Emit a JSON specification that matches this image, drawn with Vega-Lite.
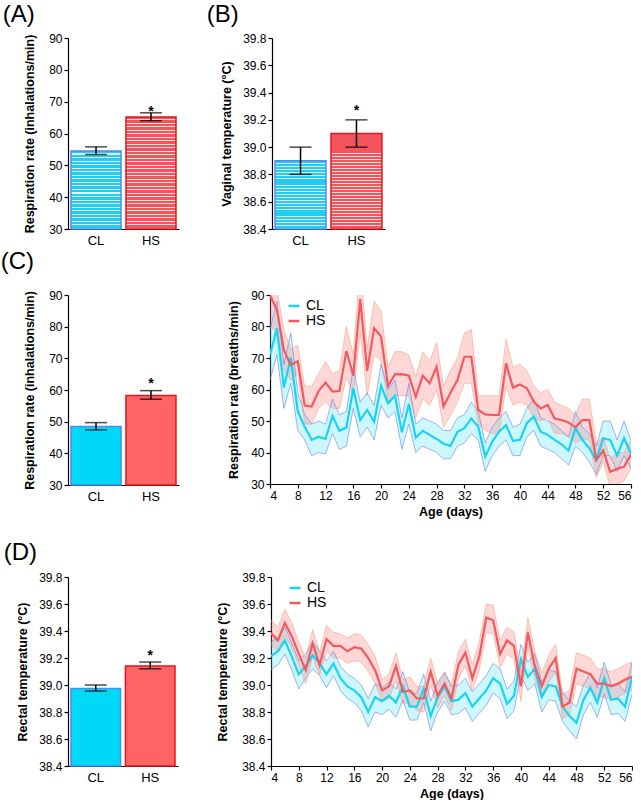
{
"$schema": "https://vega.github.io/schema/vega-lite/v6.json",
"background": "white",
"padding": {"left": 0, "top": 3, "right": 0, "bottom": 0},
"config": {
 "view": {"stroke": null},
 "font": "Liberation Sans",
 "axis": {"grid": false, "domainColor": "black", "tickColor": "black", "labelColor": "black", "titleColor": "black", "labelFont": "Liberation Sans", "titleFont": "Liberation Sans", "labelFontSize": 12, "titleFontSize": 12.5, "titleFontWeight": "bold", "tickSize": 4, "domainWidth": 1.2, "tickWidth": 1.2, "labelPadding": 2, "titlePadding": 10, "labelOverlap": false},
 "title": {"font": "Liberation Sans", "fontSize": 24, "fontWeight": "normal", "anchor": "start", "color": "black", "offset": 5},
 "legend": {"labelFont": "Liberation Sans", "labelFontSize": 14, "labelColor": "black", "symbolType": "stroke", "symbolStrokeWidth": 2.5, "symbolSize": 120, "orient": "top-left", "offset": 2, "padding": 2, "rowPadding": 1, "labelOffset": 5, "symbolOffset": 13}
},
"datasets": {
 "barA": [{"group": "CL", "mean": 54.5, "lo": 53.4, "hi": 55.8, "sig": ""}, {"group": "HS", "mean": 65.2, "lo": 64.0, "hi": 66.5, "sig": "*"}],
 "barB": [{"group": "CL", "mean": 38.9, "lo": 38.8, "hi": 39.0, "sig": ""}, {"group": "HS", "mean": 39.1, "lo": 39.0, "hi": 39.2, "sig": "*"}],
 "barC": [{"group": "CL", "mean": 48.5, "lo": 47.4, "hi": 49.7, "sig": ""}, {"group": "HS", "mean": 58.3, "lo": 57.1, "hi": 59.8, "sig": "*"}],
 "barD": [{"group": "CL", "mean": 38.975, "lo": 38.955, "hi": 39.0, "sig": ""}, {"group": "HS", "mean": 39.14, "lo": 39.12, "hi": 39.17, "sig": "*"}],
 "resp": [
  {"day":4,"group":"CL","mean":71,"lo":63,"hi":79},{"day":5,"group":"CL","mean":79.4,"lo":71,"hi":88},{"day":6,"group":"CL","mean":60.6,"lo":54,"hi":68},{"day":7,"group":"CL","mean":70.1,"lo":62,"hi":78},{"day":8,"group":"CL","mean":53,"lo":47,"hi":59},{"day":9,"group":"CL","mean":48.2,"lo":44,"hi":52},{"day":10,"group":"CL","mean":44,"lo":39,"hi":49},{"day":11,"group":"CL","mean":45,"lo":40,"hi":50},{"day":12,"group":"CL","mean":44.3,"lo":39.5,"hi":49},{"day":13,"group":"CL","mean":51.6,"lo":46,"hi":57},{"day":14,"group":"CL","mean":46.9,"lo":41,"hi":52},{"day":15,"group":"CL","mean":47.9,"lo":42,"hi":53},{"day":16,"group":"CL","mean":60.4,"lo":54,"hi":67},{"day":17,"group":"CL","mean":50.3,"lo":45,"hi":56},{"day":18,"group":"CL","mean":53.5,"lo":48,"hi":59},{"day":19,"group":"CL","mean":49.8,"lo":44,"hi":55},{"day":20,"group":"CL","mean":61.2,"lo":55,"hi":68},{"day":21,"group":"CL","mean":55.6,"lo":51,"hi":60},{"day":22,"group":"CL","mean":58,"lo":53,"hi":63},{"day":23,"group":"CL","mean":46.4,"lo":41,"hi":51},{"day":24,"group":"CL","mean":55.4,"lo":49,"hi":62},{"day":25,"group":"CL","mean":44.7,"lo":40,"hi":49},{"day":26,"group":"CL","mean":46.9,"lo":42,"hi":51},{"day":27,"group":"CL","mean":45.6,"lo":41,"hi":50},{"day":28,"group":"CL","mean":44.3,"lo":40,"hi":49},{"day":29,"group":"CL","mean":42.8,"lo":38,"hi":47},{"day":30,"group":"CL","mean":42.1,"lo":38,"hi":47},{"day":31,"group":"CL","mean":46.6,"lo":42,"hi":51},{"day":32,"group":"CL","mean":47.7,"lo":43,"hi":52},{"day":33,"group":"CL","mean":50.8,"lo":46,"hi":56},{"day":34,"group":"CL","mean":48.2,"lo":44,"hi":53},{"day":35,"group":"CL","mean":38.7,"lo":34,"hi":43},{"day":36,"group":"CL","mean":43.4,"lo":39,"hi":48},{"day":37,"group":"CL","mean":46.6,"lo":42,"hi":51},{"day":38,"group":"CL","mean":48.7,"lo":44,"hi":53},{"day":39,"group":"CL","mean":43.7,"lo":39,"hi":48},{"day":40,"group":"CL","mean":44,"lo":39,"hi":49},{"day":41,"group":"CL","mean":49.3,"lo":45,"hi":54},{"day":42,"group":"CL","mean":51.4,"lo":47,"hi":57},{"day":43,"group":"CL","mean":46.6,"lo":42,"hi":51},{"day":44,"group":"CL","mean":45.6,"lo":41,"hi":50},{"day":45,"group":"CL","mean":44,"lo":40,"hi":49},{"day":46,"group":"CL","mean":42.6,"lo":38,"hi":47},{"day":47,"group":"CL","mean":40.6,"lo":36,"hi":45},{"day":48,"group":"CL","mean":47.7,"lo":42,"hi":53},{"day":49,"group":"CL","mean":44,"lo":40,"hi":48},{"day":50,"group":"CL","mean":41.3,"lo":37,"hi":46},{"day":51,"group":"CL","mean":37.6,"lo":33,"hi":42},{"day":52,"group":"CL","mean":44.5,"lo":39,"hi":50},{"day":53,"group":"CL","mean":44,"lo":39,"hi":50},{"day":54,"group":"CL","mean":39,"lo":34,"hi":44},{"day":55,"group":"CL","mean":44.5,"lo":39,"hi":50},{"day":56,"group":"CL","mean":39.7,"lo":35,"hi":44},
  {"day":4,"group":"HS","mean":90,"lo":80,"hi":100},{"day":5,"group":"HS","mean":85.2,"lo":78,"hi":92},{"day":6,"group":"HS","mean":72.5,"lo":66,"hi":79},{"day":7,"group":"HS","mean":67.8,"lo":63,"hi":73},{"day":8,"group":"HS","mean":69,"lo":65,"hi":74},{"day":9,"group":"HS","mean":54.9,"lo":49,"hi":61},{"day":10,"group":"HS","mean":54.6,"lo":49,"hi":61},{"day":11,"group":"HS","mean":59.5,"lo":54,"hi":65},{"day":12,"group":"HS","mean":62.2,"lo":56,"hi":69},{"day":13,"group":"HS","mean":59.3,"lo":54,"hi":65},{"day":14,"group":"HS","mean":59.5,"lo":54,"hi":66},{"day":15,"group":"HS","mean":72.2,"lo":64,"hi":80},{"day":16,"group":"HS","mean":64.4,"lo":58,"hi":71},{"day":17,"group":"HS","mean":88.7,"lo":78,"hi":100},{"day":18,"group":"HS","mean":65.9,"lo":58,"hi":73},{"day":19,"group":"HS","mean":79.4,"lo":71,"hi":88},{"day":20,"group":"HS","mean":76.8,"lo":69,"hi":85},{"day":21,"group":"HS","mean":61.2,"lo":56,"hi":67},{"day":22,"group":"HS","mean":64.8,"lo":58,"hi":72},{"day":23,"group":"HS","mean":64.9,"lo":58,"hi":72},{"day":24,"group":"HS","mean":64.4,"lo":58,"hi":71},{"day":25,"group":"HS","mean":57.7,"lo":51,"hi":64},{"day":26,"group":"HS","mean":64.4,"lo":57,"hi":72},{"day":27,"group":"HS","mean":62,"lo":55,"hi":69},{"day":28,"group":"HS","mean":67.2,"lo":60,"hi":75},{"day":29,"group":"HS","mean":54.6,"lo":48,"hi":61},{"day":30,"group":"HS","mean":59,"lo":52,"hi":66},{"day":31,"group":"HS","mean":63,"lo":56,"hi":70},{"day":32,"group":"HS","mean":70.4,"lo":62,"hi":78},{"day":33,"group":"HS","mean":70.4,"lo":62,"hi":79},{"day":34,"group":"HS","mean":53.5,"lo":49,"hi":58},{"day":35,"group":"HS","mean":52.1,"lo":47,"hi":58},{"day":36,"group":"HS","mean":51.9,"lo":46,"hi":58},{"day":37,"group":"HS","mean":51.9,"lo":46,"hi":58},{"day":38,"group":"HS","mean":68.3,"lo":61,"hi":76},{"day":39,"group":"HS","mean":60.6,"lo":55,"hi":67},{"day":40,"group":"HS","mean":61.6,"lo":56,"hi":68},{"day":41,"group":"HS","mean":60.4,"lo":55,"hi":66},{"day":42,"group":"HS","mean":56.1,"lo":51,"hi":61},{"day":43,"group":"HS","mean":54,"lo":50,"hi":59},{"day":44,"group":"HS","mean":55.1,"lo":51,"hi":60},{"day":45,"group":"HS","mean":50.8,"lo":46,"hi":56},{"day":46,"group":"HS","mean":50.3,"lo":46,"hi":55},{"day":47,"group":"HS","mean":49.5,"lo":45,"hi":54},{"day":48,"group":"HS","mean":48,"lo":43,"hi":52},{"day":49,"group":"HS","mean":50.3,"lo":44,"hi":57},{"day":50,"group":"HS","mean":50.3,"lo":44,"hi":57},{"day":51,"group":"HS","mean":37.6,"lo":32,"hi":43},{"day":52,"group":"HS","mean":40.6,"lo":37,"hi":45},{"day":53,"group":"HS","mean":33.9,"lo":29,"hi":38},{"day":54,"group":"HS","mean":34.8,"lo":30,"hi":40},{"day":55,"group":"HS","mean":35.5,"lo":31,"hi":40},{"day":56,"group":"HS","mean":39.4,"lo":35,"hi":44}
 ],
 "temp": [
  {"day":4,"group":"CL","mean":39.215,"lo":39.11,"hi":39.32},{"day":5,"group":"CL","mean":39.25,"lo":39.15,"hi":39.35},{"day":6,"group":"CL","mean":39.33,"lo":39.23,"hi":39.43},{"day":7,"group":"CL","mean":39.21,"lo":39.11,"hi":39.31},{"day":8,"group":"CL","mean":39.08,"lo":38.97,"hi":39.18},{"day":9,"group":"CL","mean":39.14,"lo":39.05,"hi":39.23},{"day":10,"group":"CL","mean":39.22,"lo":39.12,"hi":39.32},{"day":11,"group":"CL","mean":39.16,"lo":39.07,"hi":39.25},{"day":12,"group":"CL","mean":39.08,"lo":38.98,"hi":39.18},{"day":13,"group":"CL","mean":39.16,"lo":39.07,"hi":39.25},{"day":14,"group":"CL","mean":39.05,"lo":38.96,"hi":39.14},{"day":15,"group":"CL","mean":38.99,"lo":38.9,"hi":39.08},{"day":16,"group":"CL","mean":38.96,"lo":38.87,"hi":39.05},{"day":17,"group":"CL","mean":38.91,"lo":38.81,"hi":39.0},{"day":18,"group":"CL","mean":38.8,"lo":38.69,"hi":38.9},{"day":19,"group":"CL","mean":38.91,"lo":38.8,"hi":39.01},{"day":20,"group":"CL","mean":38.88,"lo":38.78,"hi":38.98},{"day":21,"group":"CL","mean":38.92,"lo":38.82,"hi":39.02},{"day":22,"group":"CL","mean":38.87,"lo":38.76,"hi":38.97},{"day":23,"group":"CL","mean":38.99,"lo":38.89,"hi":39.1},{"day":24,"group":"CL","mean":38.84,"lo":38.74,"hi":38.94},{"day":25,"group":"CL","mean":38.84,"lo":38.74,"hi":38.94},{"day":26,"group":"CL","mean":38.97,"lo":38.87,"hi":39.08},{"day":27,"group":"CL","mean":38.77,"lo":38.66,"hi":38.88},{"day":28,"group":"CL","mean":38.91,"lo":38.8,"hi":39.02},{"day":29,"group":"CL","mean":38.99,"lo":38.88,"hi":39.09},{"day":30,"group":"CL","mean":38.88,"lo":38.78,"hi":38.99},{"day":31,"group":"CL","mean":38.89,"lo":38.79,"hi":39.0},{"day":32,"group":"CL","mean":38.94,"lo":38.83,"hi":39.05},{"day":33,"group":"CL","mean":38.84,"lo":38.73,"hi":38.95},{"day":34,"group":"CL","mean":38.9,"lo":38.79,"hi":39.01},{"day":35,"group":"CL","mean":38.96,"lo":38.85,"hi":39.07},{"day":36,"group":"CL","mean":39.05,"lo":38.94,"hi":39.16},{"day":37,"group":"CL","mean":39.01,"lo":38.9,"hi":39.12},{"day":38,"group":"CL","mean":38.86,"lo":38.75,"hi":38.97},{"day":39,"group":"CL","mean":38.92,"lo":38.81,"hi":39.03},{"day":40,"group":"CL","mean":39.19,"lo":39.07,"hi":39.3},{"day":41,"group":"CL","mean":39.06,"lo":38.96,"hi":39.17},{"day":42,"group":"CL","mean":39.12,"lo":39.01,"hi":39.23},{"day":43,"group":"CL","mean":38.91,"lo":38.8,"hi":39.02},{"day":44,"group":"CL","mean":39.0,"lo":38.89,"hi":39.11},{"day":45,"group":"CL","mean":38.99,"lo":38.88,"hi":39.1},{"day":46,"group":"CL","mean":38.84,"lo":38.73,"hi":38.95},{"day":47,"group":"CL","mean":38.77,"lo":38.66,"hi":38.88},{"day":48,"group":"CL","mean":38.72,"lo":38.6,"hi":38.84},{"day":49,"group":"CL","mean":38.89,"lo":38.78,"hi":39.0},{"day":50,"group":"CL","mean":38.98,"lo":38.87,"hi":39.09},{"day":51,"group":"CL","mean":38.87,"lo":38.76,"hi":38.98},{"day":52,"group":"CL","mean":39.05,"lo":38.93,"hi":39.17},{"day":53,"group":"CL","mean":38.89,"lo":38.78,"hi":39.0},{"day":54,"group":"CL","mean":38.9,"lo":38.79,"hi":39.01},{"day":55,"group":"CL","mean":38.84,"lo":38.73,"hi":38.95},{"day":56,"group":"CL","mean":39.06,"lo":38.93,"hi":39.17},
  {"day":4,"group":"HS","mean":39.385,"lo":39.3,"hi":39.48},{"day":5,"group":"HS","mean":39.33,"lo":39.24,"hi":39.43},{"day":6,"group":"HS","mean":39.46,"lo":39.37,"hi":39.56},{"day":7,"group":"HS","mean":39.36,"lo":39.27,"hi":39.46},{"day":8,"group":"HS","mean":39.23,"lo":39.14,"hi":39.32},{"day":9,"group":"HS","mean":39.11,"lo":39.01,"hi":39.2},{"day":10,"group":"HS","mean":39.31,"lo":39.21,"hi":39.41},{"day":11,"group":"HS","mean":39.15,"lo":39.07,"hi":39.24},{"day":12,"group":"HS","mean":39.34,"lo":39.25,"hi":39.44},{"day":13,"group":"HS","mean":39.29,"lo":39.2,"hi":39.39},{"day":14,"group":"HS","mean":39.29,"lo":39.2,"hi":39.38},{"day":15,"group":"HS","mean":39.25,"lo":39.16,"hi":39.35},{"day":16,"group":"HS","mean":39.28,"lo":39.18,"hi":39.38},{"day":17,"group":"HS","mean":39.27,"lo":39.17,"hi":39.37},{"day":18,"group":"HS","mean":39.2,"lo":39.1,"hi":39.3},{"day":19,"group":"HS","mean":39.11,"lo":39.01,"hi":39.21},{"day":20,"group":"HS","mean":38.96,"lo":38.88,"hi":39.04},{"day":21,"group":"HS","mean":38.99,"lo":38.9,"hi":39.08},{"day":22,"group":"HS","mean":39.14,"lo":39.03,"hi":39.24},{"day":23,"group":"HS","mean":38.95,"lo":38.86,"hi":39.04},{"day":24,"group":"HS","mean":38.96,"lo":38.87,"hi":39.06},{"day":25,"group":"HS","mean":38.9,"lo":38.81,"hi":38.99},{"day":26,"group":"HS","mean":38.9,"lo":38.8,"hi":38.99},{"day":27,"group":"HS","mean":39.1,"lo":39.0,"hi":39.2},{"day":28,"group":"HS","mean":38.92,"lo":38.83,"hi":39.01},{"day":29,"group":"HS","mean":39.01,"lo":38.92,"hi":39.1},{"day":30,"group":"HS","mean":38.9,"lo":38.81,"hi":39.0},{"day":31,"group":"HS","mean":39.15,"lo":39.05,"hi":39.25},{"day":32,"group":"HS","mean":39.24,"lo":39.14,"hi":39.34},{"day":33,"group":"HS","mean":39.05,"lo":38.96,"hi":39.15},{"day":34,"group":"HS","mean":39.21,"lo":39.11,"hi":39.32},{"day":35,"group":"HS","mean":39.5,"lo":39.39,"hi":39.6},{"day":36,"group":"HS","mean":39.48,"lo":39.38,"hi":39.59},{"day":37,"group":"HS","mean":39.23,"lo":39.13,"hi":39.33},{"day":38,"group":"HS","mean":39.33,"lo":39.23,"hi":39.43},{"day":39,"group":"HS","mean":39.29,"lo":39.19,"hi":39.39},{"day":40,"group":"HS","mean":38.99,"lo":38.88,"hi":39.1},{"day":41,"group":"HS","mean":39.39,"lo":39.28,"hi":39.5},{"day":42,"group":"HS","mean":39.14,"lo":39.04,"hi":39.25},{"day":43,"group":"HS","mean":38.99,"lo":38.9,"hi":39.09},{"day":44,"group":"HS","mean":39.12,"lo":39.02,"hi":39.22},{"day":45,"group":"HS","mean":39.2,"lo":39.1,"hi":39.3},{"day":46,"group":"HS","mean":38.84,"lo":38.75,"hi":38.93},{"day":47,"group":"HS","mean":38.87,"lo":38.78,"hi":38.96},{"day":48,"group":"HS","mean":39.12,"lo":39.01,"hi":39.24},{"day":49,"group":"HS","mean":39.1,"lo":38.99,"hi":39.22},{"day":50,"group":"HS","mean":39.08,"lo":38.97,"hi":39.2},{"day":51,"group":"HS","mean":39.01,"lo":38.91,"hi":39.12},{"day":52,"group":"HS","mean":39.01,"lo":38.91,"hi":39.12},{"day":53,"group":"HS","mean":38.99,"lo":38.89,"hi":39.1},{"day":54,"group":"HS","mean":39.01,"lo":38.91,"hi":39.12},{"day":55,"group":"HS","mean":39.04,"lo":38.94,"hi":39.15},{"day":56,"group":"HS","mean":39.06,"lo":38.96,"hi":39.17}
 ]
},
"resolve": {"scale": {"color": "independent"}, "legend": {"color": "independent"}},
"vconcat": [
 {"spacing": 3, "resolve": {"scale": {"color": "independent"}, "legend": {"color": "independent"}}, "vconcat": [
  {"spacing": 27, "hconcat": [
   {"width": 111, "height": 191, "title": {"text": "(A)", "dx": -21},
    "data": {"name": "barA"},
    "encoding": {"x": {"field": "group", "type": "nominal", "scale": {"paddingInner": 0.09, "paddingOuter": 0.055}, "axis": {"title": null, "labelAngle": 0, "ticks": false, "labelPadding": 5, "labelFontSize": 13}}},
    "layer": [
     {"mark": {"type": "bar", "strokeWidth": 1.5},
      "encoding": {"y": {"field": "mean", "type": "quantitative", "scale": {"domain": [30, 90]}, "axis": {"title": "Respiration rate (inhalations/min)", "values": [30,40,50,60,70,80,90], "tickCount": 20, "titlePadding": 12}}, "y2": {"datum": 30},
       "fill": {"condition": {"test": "datum.group === 'CL'", "value": {"gradient": "linear", "x1": 0, "y1": 0, "x2": 0, "y2": 1, "stops": [
{"offset":0,"color":"#22cdf4"},{"offset":0.0318,"color":"#22cdf4"},{"offset":0.0318,"color":"#e6faff"},{"offset":0.0455,"color":"#e6faff"},
{"offset":0.0455,"color":"#22cdf4"},{"offset":0.0773,"color":"#22cdf4"},{"offset":0.0773,"color":"#e6faff"},{"offset":0.0909,"color":"#e6faff"},
{"offset":0.0909,"color":"#22cdf4"},{"offset":0.1227,"color":"#22cdf4"},{"offset":0.1227,"color":"#e6faff"},{"offset":0.1364,"color":"#e6faff"},
{"offset":0.1364,"color":"#22cdf4"},{"offset":0.1682,"color":"#22cdf4"},{"offset":0.1682,"color":"#e6faff"},{"offset":0.1818,"color":"#e6faff"},
{"offset":0.1818,"color":"#22cdf4"},{"offset":0.2136,"color":"#22cdf4"},{"offset":0.2136,"color":"#e6faff"},{"offset":0.2273,"color":"#e6faff"},
{"offset":0.2273,"color":"#22cdf4"},{"offset":0.2591,"color":"#22cdf4"},{"offset":0.2591,"color":"#e6faff"},{"offset":0.2727,"color":"#e6faff"},
{"offset":0.2727,"color":"#22cdf4"},{"offset":0.3045,"color":"#22cdf4"},{"offset":0.3045,"color":"#e6faff"},{"offset":0.3182,"color":"#e6faff"},
{"offset":0.3182,"color":"#22cdf4"},{"offset":0.35,"color":"#22cdf4"},{"offset":0.35,"color":"#e6faff"},{"offset":0.3636,"color":"#e6faff"},
{"offset":0.3636,"color":"#22cdf4"},{"offset":0.3955,"color":"#22cdf4"},{"offset":0.3955,"color":"#e6faff"},{"offset":0.4091,"color":"#e6faff"},
{"offset":0.4091,"color":"#22cdf4"},{"offset":0.4409,"color":"#22cdf4"},{"offset":0.4409,"color":"#e6faff"},{"offset":0.4545,"color":"#e6faff"},
{"offset":0.4545,"color":"#22cdf4"},{"offset":0.4864,"color":"#22cdf4"},{"offset":0.4864,"color":"#e6faff"},{"offset":0.5,"color":"#e6faff"},
{"offset":0.5,"color":"#22cdf4"},{"offset":0.5318,"color":"#22cdf4"},{"offset":0.5318,"color":"#e6faff"},{"offset":0.5455,"color":"#e6faff"},
{"offset":0.5455,"color":"#22cdf4"},{"offset":0.5773,"color":"#22cdf4"},{"offset":0.5773,"color":"#e6faff"},{"offset":0.5909,"color":"#e6faff"},
{"offset":0.5909,"color":"#22cdf4"},{"offset":0.6227,"color":"#22cdf4"},{"offset":0.6227,"color":"#e6faff"},{"offset":0.6364,"color":"#e6faff"},
{"offset":0.6364,"color":"#22cdf4"},{"offset":0.6682,"color":"#22cdf4"},{"offset":0.6682,"color":"#e6faff"},{"offset":0.6818,"color":"#e6faff"},
{"offset":0.6818,"color":"#22cdf4"},{"offset":0.7136,"color":"#22cdf4"},{"offset":0.7136,"color":"#e6faff"},{"offset":0.7273,"color":"#e6faff"},
{"offset":0.7273,"color":"#22cdf4"},{"offset":0.7591,"color":"#22cdf4"},{"offset":0.7591,"color":"#e6faff"},{"offset":0.7727,"color":"#e6faff"},
{"offset":0.7727,"color":"#22cdf4"},{"offset":0.8045,"color":"#22cdf4"},{"offset":0.8045,"color":"#e6faff"},{"offset":0.8182,"color":"#e6faff"},
{"offset":0.8182,"color":"#22cdf4"},{"offset":0.85,"color":"#22cdf4"},{"offset":0.85,"color":"#e6faff"},{"offset":0.8636,"color":"#e6faff"},
{"offset":0.8636,"color":"#22cdf4"},{"offset":0.8955,"color":"#22cdf4"},{"offset":0.8955,"color":"#e6faff"},{"offset":0.9091,"color":"#e6faff"},
{"offset":0.9091,"color":"#22cdf4"},{"offset":0.9409,"color":"#22cdf4"},{"offset":0.9409,"color":"#e6faff"},{"offset":0.9545,"color":"#e6faff"},
{"offset":0.9545,"color":"#22cdf4"},{"offset":0.9864,"color":"#22cdf4"},{"offset":0.9864,"color":"#e6faff"},{"offset":1,"color":"#e6faff"}
]}}, "value": {"gradient": "linear", "x1": 0, "y1": 0, "x2": 0, "y2": 1, "stops": [
{"offset":0,"color":"#f4545c"},{"offset":0.021875,"color":"#f4545c"},{"offset":0.021875,"color":"#ffe0e2"},{"offset":0.03125,"color":"#ffe0e2"},
{"offset":0.03125,"color":"#f4545c"},{"offset":0.053125,"color":"#f4545c"},{"offset":0.053125,"color":"#ffe0e2"},{"offset":0.0625,"color":"#ffe0e2"},
{"offset":0.0625,"color":"#f4545c"},{"offset":0.084375,"color":"#f4545c"},{"offset":0.084375,"color":"#ffe0e2"},{"offset":0.09375,"color":"#ffe0e2"},
{"offset":0.09375,"color":"#f4545c"},{"offset":0.115625,"color":"#f4545c"},{"offset":0.115625,"color":"#ffe0e2"},{"offset":0.125,"color":"#ffe0e2"},
{"offset":0.125,"color":"#f4545c"},{"offset":0.146875,"color":"#f4545c"},{"offset":0.146875,"color":"#ffe0e2"},{"offset":0.15625,"color":"#ffe0e2"},
{"offset":0.15625,"color":"#f4545c"},{"offset":0.178125,"color":"#f4545c"},{"offset":0.178125,"color":"#ffe0e2"},{"offset":0.1875,"color":"#ffe0e2"},
{"offset":0.1875,"color":"#f4545c"},{"offset":0.209375,"color":"#f4545c"},{"offset":0.209375,"color":"#ffe0e2"},{"offset":0.21875,"color":"#ffe0e2"},
{"offset":0.21875,"color":"#f4545c"},{"offset":0.240625,"color":"#f4545c"},{"offset":0.240625,"color":"#ffe0e2"},{"offset":0.25,"color":"#ffe0e2"},
{"offset":0.25,"color":"#f4545c"},{"offset":0.271875,"color":"#f4545c"},{"offset":0.271875,"color":"#ffe0e2"},{"offset":0.28125,"color":"#ffe0e2"},
{"offset":0.28125,"color":"#f4545c"},{"offset":0.303125,"color":"#f4545c"},{"offset":0.303125,"color":"#ffe0e2"},{"offset":0.3125,"color":"#ffe0e2"},
{"offset":0.3125,"color":"#f4545c"},{"offset":0.334375,"color":"#f4545c"},{"offset":0.334375,"color":"#ffe0e2"},{"offset":0.34375,"color":"#ffe0e2"},
{"offset":0.34375,"color":"#f4545c"},{"offset":0.365625,"color":"#f4545c"},{"offset":0.365625,"color":"#ffe0e2"},{"offset":0.375,"color":"#ffe0e2"},
{"offset":0.375,"color":"#f4545c"},{"offset":0.396875,"color":"#f4545c"},{"offset":0.396875,"color":"#ffe0e2"},{"offset":0.40625,"color":"#ffe0e2"},
{"offset":0.40625,"color":"#f4545c"},{"offset":0.428125,"color":"#f4545c"},{"offset":0.428125,"color":"#ffe0e2"},{"offset":0.4375,"color":"#ffe0e2"},
{"offset":0.4375,"color":"#f4545c"},{"offset":0.459375,"color":"#f4545c"},{"offset":0.459375,"color":"#ffe0e2"},{"offset":0.46875,"color":"#ffe0e2"},
{"offset":0.46875,"color":"#f4545c"},{"offset":0.490625,"color":"#f4545c"},{"offset":0.490625,"color":"#ffe0e2"},{"offset":0.5,"color":"#ffe0e2"},
{"offset":0.5,"color":"#f4545c"},{"offset":0.521875,"color":"#f4545c"},{"offset":0.521875,"color":"#ffe0e2"},{"offset":0.53125,"color":"#ffe0e2"},
{"offset":0.53125,"color":"#f4545c"},{"offset":0.553125,"color":"#f4545c"},{"offset":0.553125,"color":"#ffe0e2"},{"offset":0.5625,"color":"#ffe0e2"},
{"offset":0.5625,"color":"#f4545c"},{"offset":0.584375,"color":"#f4545c"},{"offset":0.584375,"color":"#ffe0e2"},{"offset":0.59375,"color":"#ffe0e2"},
{"offset":0.59375,"color":"#f4545c"},{"offset":0.615625,"color":"#f4545c"},{"offset":0.615625,"color":"#ffe0e2"},{"offset":0.625,"color":"#ffe0e2"},
{"offset":0.625,"color":"#f4545c"},{"offset":0.646875,"color":"#f4545c"},{"offset":0.646875,"color":"#ffe0e2"},{"offset":0.65625,"color":"#ffe0e2"},
{"offset":0.65625,"color":"#f4545c"},{"offset":0.678125,"color":"#f4545c"},{"offset":0.678125,"color":"#ffe0e2"},{"offset":0.6875,"color":"#ffe0e2"},
{"offset":0.6875,"color":"#f4545c"},{"offset":0.709375,"color":"#f4545c"},{"offset":0.709375,"color":"#ffe0e2"},{"offset":0.71875,"color":"#ffe0e2"},
{"offset":0.71875,"color":"#f4545c"},{"offset":0.740625,"color":"#f4545c"},{"offset":0.740625,"color":"#ffe0e2"},{"offset":0.75,"color":"#ffe0e2"},
{"offset":0.75,"color":"#f4545c"},{"offset":0.771875,"color":"#f4545c"},{"offset":0.771875,"color":"#ffe0e2"},{"offset":0.78125,"color":"#ffe0e2"},
{"offset":0.78125,"color":"#f4545c"},{"offset":0.803125,"color":"#f4545c"},{"offset":0.803125,"color":"#ffe0e2"},{"offset":0.8125,"color":"#ffe0e2"},
{"offset":0.8125,"color":"#f4545c"},{"offset":0.834375,"color":"#f4545c"},{"offset":0.834375,"color":"#ffe0e2"},{"offset":0.84375,"color":"#ffe0e2"},
{"offset":0.84375,"color":"#f4545c"},{"offset":0.865625,"color":"#f4545c"},{"offset":0.865625,"color":"#ffe0e2"},{"offset":0.875,"color":"#ffe0e2"},
{"offset":0.875,"color":"#f4545c"},{"offset":0.896875,"color":"#f4545c"},{"offset":0.896875,"color":"#ffe0e2"},{"offset":0.90625,"color":"#ffe0e2"},
{"offset":0.90625,"color":"#f4545c"},{"offset":0.928125,"color":"#f4545c"},{"offset":0.928125,"color":"#ffe0e2"},{"offset":0.9375,"color":"#ffe0e2"},
{"offset":0.9375,"color":"#f4545c"},{"offset":0.959375,"color":"#f4545c"},{"offset":0.959375,"color":"#ffe0e2"},{"offset":0.96875,"color":"#ffe0e2"},
{"offset":0.96875,"color":"#f4545c"},{"offset":0.990625,"color":"#f4545c"},{"offset":0.990625,"color":"#ffe0e2"},{"offset":1,"color":"#ffe0e2"}
]}},
       "stroke": {"condition": {"test": "datum.group === 'CL'", "value": "#4a8cf0"}, "value": "#e8141c"}}},
     {"mark": {"type": "rule", "strokeWidth": 1.5, "color": "black"}, "encoding": {"y": {"field": "lo", "type": "quantitative"}, "y2": {"field": "hi"}}},
     {"mark": {"type": "tick", "thickness": 1.5, "size": 22, "color": "black"}, "encoding": {"y": {"field": "lo", "type": "quantitative"}}},
     {"mark": {"type": "tick", "thickness": 1.5, "size": 22, "color": "black"}, "encoding": {"y": {"field": "hi", "type": "quantitative"}}},
     {"mark": {"type": "text", "baseline": "alphabetic", "dy": 3, "fontSize": 14, "fontWeight": "bold"}, "encoding": {"y": {"field": "hi", "type": "quantitative"}, "text": {"field": "sig"}}}
    ]},
   {"width": 113, "height": 191, "title": {"text": "(B)", "dx": -14},
    "data": {"name": "barB"},
    "encoding": {"x": {"field": "group", "type": "nominal", "scale": {"paddingInner": 0.09, "paddingOuter": 0.055}, "axis": {"title": null, "labelAngle": 0, "ticks": false, "labelPadding": 5, "labelFontSize": 13}}},
    "layer": [
     {"mark": {"type": "bar", "strokeWidth": 1.5},
      "encoding": {"y": {"field": "mean", "type": "quantitative", "scale": {"domain": [38.4, 39.8]}, "axis": {"title": "Vaginal temperature (°C)", "values": [38.4,38.6,38.8,39.0,39.2,39.4,39.6,39.8], "tickCount": 20, "format": ".1f", "titlePadding": 9}}, "y2": {"datum": 38.4},
       "fill": {"condition": {"test": "datum.group === 'CL'", "value": {"gradient": "linear", "x1": 0, "y1": 0, "x2": 0, "y2": 1, "stops": [
{"offset":0,"color":"#22cdf4"},{"offset":0.0318,"color":"#22cdf4"},{"offset":0.0318,"color":"#e6faff"},{"offset":0.0455,"color":"#e6faff"},
{"offset":0.0455,"color":"#22cdf4"},{"offset":0.0773,"color":"#22cdf4"},{"offset":0.0773,"color":"#e6faff"},{"offset":0.0909,"color":"#e6faff"},
{"offset":0.0909,"color":"#22cdf4"},{"offset":0.1227,"color":"#22cdf4"},{"offset":0.1227,"color":"#e6faff"},{"offset":0.1364,"color":"#e6faff"},
{"offset":0.1364,"color":"#22cdf4"},{"offset":0.1682,"color":"#22cdf4"},{"offset":0.1682,"color":"#e6faff"},{"offset":0.1818,"color":"#e6faff"},
{"offset":0.1818,"color":"#22cdf4"},{"offset":0.2136,"color":"#22cdf4"},{"offset":0.2136,"color":"#e6faff"},{"offset":0.2273,"color":"#e6faff"},
{"offset":0.2273,"color":"#22cdf4"},{"offset":0.2591,"color":"#22cdf4"},{"offset":0.2591,"color":"#e6faff"},{"offset":0.2727,"color":"#e6faff"},
{"offset":0.2727,"color":"#22cdf4"},{"offset":0.3045,"color":"#22cdf4"},{"offset":0.3045,"color":"#e6faff"},{"offset":0.3182,"color":"#e6faff"},
{"offset":0.3182,"color":"#22cdf4"},{"offset":0.35,"color":"#22cdf4"},{"offset":0.35,"color":"#e6faff"},{"offset":0.3636,"color":"#e6faff"},
{"offset":0.3636,"color":"#22cdf4"},{"offset":0.3955,"color":"#22cdf4"},{"offset":0.3955,"color":"#e6faff"},{"offset":0.4091,"color":"#e6faff"},
{"offset":0.4091,"color":"#22cdf4"},{"offset":0.4409,"color":"#22cdf4"},{"offset":0.4409,"color":"#e6faff"},{"offset":0.4545,"color":"#e6faff"},
{"offset":0.4545,"color":"#22cdf4"},{"offset":0.4864,"color":"#22cdf4"},{"offset":0.4864,"color":"#e6faff"},{"offset":0.5,"color":"#e6faff"},
{"offset":0.5,"color":"#22cdf4"},{"offset":0.5318,"color":"#22cdf4"},{"offset":0.5318,"color":"#e6faff"},{"offset":0.5455,"color":"#e6faff"},
{"offset":0.5455,"color":"#22cdf4"},{"offset":0.5773,"color":"#22cdf4"},{"offset":0.5773,"color":"#e6faff"},{"offset":0.5909,"color":"#e6faff"},
{"offset":0.5909,"color":"#22cdf4"},{"offset":0.6227,"color":"#22cdf4"},{"offset":0.6227,"color":"#e6faff"},{"offset":0.6364,"color":"#e6faff"},
{"offset":0.6364,"color":"#22cdf4"},{"offset":0.6682,"color":"#22cdf4"},{"offset":0.6682,"color":"#e6faff"},{"offset":0.6818,"color":"#e6faff"},
{"offset":0.6818,"color":"#22cdf4"},{"offset":0.7136,"color":"#22cdf4"},{"offset":0.7136,"color":"#e6faff"},{"offset":0.7273,"color":"#e6faff"},
{"offset":0.7273,"color":"#22cdf4"},{"offset":0.7591,"color":"#22cdf4"},{"offset":0.7591,"color":"#e6faff"},{"offset":0.7727,"color":"#e6faff"},
{"offset":0.7727,"color":"#22cdf4"},{"offset":0.8045,"color":"#22cdf4"},{"offset":0.8045,"color":"#e6faff"},{"offset":0.8182,"color":"#e6faff"},
{"offset":0.8182,"color":"#22cdf4"},{"offset":0.85,"color":"#22cdf4"},{"offset":0.85,"color":"#e6faff"},{"offset":0.8636,"color":"#e6faff"},
{"offset":0.8636,"color":"#22cdf4"},{"offset":0.8955,"color":"#22cdf4"},{"offset":0.8955,"color":"#e6faff"},{"offset":0.9091,"color":"#e6faff"},
{"offset":0.9091,"color":"#22cdf4"},{"offset":0.9409,"color":"#22cdf4"},{"offset":0.9409,"color":"#e6faff"},{"offset":0.9545,"color":"#e6faff"},
{"offset":0.9545,"color":"#22cdf4"},{"offset":0.9864,"color":"#22cdf4"},{"offset":0.9864,"color":"#e6faff"},{"offset":1,"color":"#e6faff"}
]}}, "value": {"gradient": "linear", "x1": 0, "y1": 0, "x2": 0, "y2": 1, "stops": [
{"offset":0,"color":"#f4545c"},{"offset":0.021875,"color":"#f4545c"},{"offset":0.021875,"color":"#ffe0e2"},{"offset":0.03125,"color":"#ffe0e2"},
{"offset":0.03125,"color":"#f4545c"},{"offset":0.053125,"color":"#f4545c"},{"offset":0.053125,"color":"#ffe0e2"},{"offset":0.0625,"color":"#ffe0e2"},
{"offset":0.0625,"color":"#f4545c"},{"offset":0.084375,"color":"#f4545c"},{"offset":0.084375,"color":"#ffe0e2"},{"offset":0.09375,"color":"#ffe0e2"},
{"offset":0.09375,"color":"#f4545c"},{"offset":0.115625,"color":"#f4545c"},{"offset":0.115625,"color":"#ffe0e2"},{"offset":0.125,"color":"#ffe0e2"},
{"offset":0.125,"color":"#f4545c"},{"offset":0.146875,"color":"#f4545c"},{"offset":0.146875,"color":"#ffe0e2"},{"offset":0.15625,"color":"#ffe0e2"},
{"offset":0.15625,"color":"#f4545c"},{"offset":0.178125,"color":"#f4545c"},{"offset":0.178125,"color":"#ffe0e2"},{"offset":0.1875,"color":"#ffe0e2"},
{"offset":0.1875,"color":"#f4545c"},{"offset":0.209375,"color":"#f4545c"},{"offset":0.209375,"color":"#ffe0e2"},{"offset":0.21875,"color":"#ffe0e2"},
{"offset":0.21875,"color":"#f4545c"},{"offset":0.240625,"color":"#f4545c"},{"offset":0.240625,"color":"#ffe0e2"},{"offset":0.25,"color":"#ffe0e2"},
{"offset":0.25,"color":"#f4545c"},{"offset":0.271875,"color":"#f4545c"},{"offset":0.271875,"color":"#ffe0e2"},{"offset":0.28125,"color":"#ffe0e2"},
{"offset":0.28125,"color":"#f4545c"},{"offset":0.303125,"color":"#f4545c"},{"offset":0.303125,"color":"#ffe0e2"},{"offset":0.3125,"color":"#ffe0e2"},
{"offset":0.3125,"color":"#f4545c"},{"offset":0.334375,"color":"#f4545c"},{"offset":0.334375,"color":"#ffe0e2"},{"offset":0.34375,"color":"#ffe0e2"},
{"offset":0.34375,"color":"#f4545c"},{"offset":0.365625,"color":"#f4545c"},{"offset":0.365625,"color":"#ffe0e2"},{"offset":0.375,"color":"#ffe0e2"},
{"offset":0.375,"color":"#f4545c"},{"offset":0.396875,"color":"#f4545c"},{"offset":0.396875,"color":"#ffe0e2"},{"offset":0.40625,"color":"#ffe0e2"},
{"offset":0.40625,"color":"#f4545c"},{"offset":0.428125,"color":"#f4545c"},{"offset":0.428125,"color":"#ffe0e2"},{"offset":0.4375,"color":"#ffe0e2"},
{"offset":0.4375,"color":"#f4545c"},{"offset":0.459375,"color":"#f4545c"},{"offset":0.459375,"color":"#ffe0e2"},{"offset":0.46875,"color":"#ffe0e2"},
{"offset":0.46875,"color":"#f4545c"},{"offset":0.490625,"color":"#f4545c"},{"offset":0.490625,"color":"#ffe0e2"},{"offset":0.5,"color":"#ffe0e2"},
{"offset":0.5,"color":"#f4545c"},{"offset":0.521875,"color":"#f4545c"},{"offset":0.521875,"color":"#ffe0e2"},{"offset":0.53125,"color":"#ffe0e2"},
{"offset":0.53125,"color":"#f4545c"},{"offset":0.553125,"color":"#f4545c"},{"offset":0.553125,"color":"#ffe0e2"},{"offset":0.5625,"color":"#ffe0e2"},
{"offset":0.5625,"color":"#f4545c"},{"offset":0.584375,"color":"#f4545c"},{"offset":0.584375,"color":"#ffe0e2"},{"offset":0.59375,"color":"#ffe0e2"},
{"offset":0.59375,"color":"#f4545c"},{"offset":0.615625,"color":"#f4545c"},{"offset":0.615625,"color":"#ffe0e2"},{"offset":0.625,"color":"#ffe0e2"},
{"offset":0.625,"color":"#f4545c"},{"offset":0.646875,"color":"#f4545c"},{"offset":0.646875,"color":"#ffe0e2"},{"offset":0.65625,"color":"#ffe0e2"},
{"offset":0.65625,"color":"#f4545c"},{"offset":0.678125,"color":"#f4545c"},{"offset":0.678125,"color":"#ffe0e2"},{"offset":0.6875,"color":"#ffe0e2"},
{"offset":0.6875,"color":"#f4545c"},{"offset":0.709375,"color":"#f4545c"},{"offset":0.709375,"color":"#ffe0e2"},{"offset":0.71875,"color":"#ffe0e2"},
{"offset":0.71875,"color":"#f4545c"},{"offset":0.740625,"color":"#f4545c"},{"offset":0.740625,"color":"#ffe0e2"},{"offset":0.75,"color":"#ffe0e2"},
{"offset":0.75,"color":"#f4545c"},{"offset":0.771875,"color":"#f4545c"},{"offset":0.771875,"color":"#ffe0e2"},{"offset":0.78125,"color":"#ffe0e2"},
{"offset":0.78125,"color":"#f4545c"},{"offset":0.803125,"color":"#f4545c"},{"offset":0.803125,"color":"#ffe0e2"},{"offset":0.8125,"color":"#ffe0e2"},
{"offset":0.8125,"color":"#f4545c"},{"offset":0.834375,"color":"#f4545c"},{"offset":0.834375,"color":"#ffe0e2"},{"offset":0.84375,"color":"#ffe0e2"},
{"offset":0.84375,"color":"#f4545c"},{"offset":0.865625,"color":"#f4545c"},{"offset":0.865625,"color":"#ffe0e2"},{"offset":0.875,"color":"#ffe0e2"},
{"offset":0.875,"color":"#f4545c"},{"offset":0.896875,"color":"#f4545c"},{"offset":0.896875,"color":"#ffe0e2"},{"offset":0.90625,"color":"#ffe0e2"},
{"offset":0.90625,"color":"#f4545c"},{"offset":0.928125,"color":"#f4545c"},{"offset":0.928125,"color":"#ffe0e2"},{"offset":0.9375,"color":"#ffe0e2"},
{"offset":0.9375,"color":"#f4545c"},{"offset":0.959375,"color":"#f4545c"},{"offset":0.959375,"color":"#ffe0e2"},{"offset":0.96875,"color":"#ffe0e2"},
{"offset":0.96875,"color":"#f4545c"},{"offset":0.990625,"color":"#f4545c"},{"offset":0.990625,"color":"#ffe0e2"},{"offset":1,"color":"#ffe0e2"}
]}},
       "stroke": {"condition": {"test": "datum.group === 'CL'", "value": "#4a8cf0"}, "value": "#e8141c"}}},
     {"mark": {"type": "rule", "strokeWidth": 1.5, "color": "black"}, "encoding": {"y": {"field": "lo", "type": "quantitative"}, "y2": {"field": "hi"}}},
     {"mark": {"type": "tick", "thickness": 1.5, "size": 22, "color": "black"}, "encoding": {"y": {"field": "lo", "type": "quantitative"}}},
     {"mark": {"type": "tick", "thickness": 1.5, "size": 22, "color": "black"}, "encoding": {"y": {"field": "hi", "type": "quantitative"}}},
     {"mark": {"type": "text", "baseline": "alphabetic", "dy": -5, "fontSize": 14, "fontWeight": "bold"}, "encoding": {"y": {"field": "hi", "type": "quantitative"}, "text": {"field": "sig"}}}
    ]}
  ]},
  {"spacing": 48, "title": {"text": "(C)", "dx": -23, "offset": 15}, "resolve": {"scale": {"color": "independent"}, "legend": {"color": "independent"}}, "hconcat": [
   {"width": 111, "height": 190,
    "data": {"name": "barC"},
    "encoding": {"x": {"field": "group", "type": "nominal", "scale": {"paddingInner": 0.09, "paddingOuter": 0.055}, "axis": {"title": null, "labelAngle": 0, "ticks": false, "labelPadding": 5, "labelFontSize": 13}}},
    "layer": [
     {"mark": {"type": "bar", "strokeWidth": 1.5},
      "encoding": {"y": {"field": "mean", "type": "quantitative", "scale": {"domain": [30, 90]}, "axis": {"title": "Respiration rate (inhalations/min)", "values": [30,40,50,60,70,80,90], "tickCount": 20, "titlePadding": 12}}, "y2": {"datum": 30},
       "fill": {"condition": {"test": "datum.group === 'CL'", "value": "#00d8f8"}, "value": "#ff6464"},
       "stroke": {"condition": {"test": "datum.group === 'CL'", "value": "#4a8cf0"}, "value": "#e8141c"}}},
     {"mark": {"type": "rule", "strokeWidth": 1.5, "color": "black"}, "encoding": {"y": {"field": "lo", "type": "quantitative"}, "y2": {"field": "hi"}}},
     {"mark": {"type": "tick", "thickness": 1.5, "size": 22, "color": "black"}, "encoding": {"y": {"field": "lo", "type": "quantitative"}}},
     {"mark": {"type": "tick", "thickness": 1.5, "size": 22, "color": "black"}, "encoding": {"y": {"field": "hi", "type": "quantitative"}}},
     {"mark": {"type": "text", "baseline": "alphabetic", "dy": -3, "fontSize": 14, "fontWeight": "bold"}, "encoding": {"y": {"field": "hi", "type": "quantitative"}, "text": {"field": "sig"}}}
    ]},
   {"width": 361, "height": 189,
    "data": {"name": "resp"},
    "encoding": {"x": {"field": "day", "type": "quantitative", "scale": {"domain": [4, 56], "nice": false}, "axis": {"title": "Age (days)", "values": [4,8,12,16,20,24,28,32,36,40,44,48,52,56], "tickCount": 20, "titlePadding": 4}}},
    "layer": [
     {"mark": {"type": "area", "fillOpacity": 0.28, "clip": true}, "encoding": {"y": {"field": "lo", "type": "quantitative", "scale": {"domain": [30, 90]}, "axis": {"title": "Respiration rate (breaths/min)", "values": [30,40,50,60,70,80,90], "tickCount": 20}}, "y2": {"field": "hi"}, "detail": {"field": "group"}, "fill": {"condition": {"test": "datum.group === 'CL'", "value": "#48e6f8"}, "value": "#ff7070"}}},
     {"mark": {"type": "line", "strokeWidth": 0.6, "clip": true}, "encoding": {"y": {"field": "lo", "type": "quantitative"}, "detail": {"field": "group"}, "stroke": {"condition": {"test": "datum.group === 'CL'", "value": "#6c7ee8"}, "value": "#f5a585"}}},
     {"mark": {"type": "line", "strokeWidth": 0.6, "clip": true}, "encoding": {"y": {"field": "hi", "type": "quantitative"}, "detail": {"field": "group"}, "stroke": {"condition": {"test": "datum.group === 'CL'", "value": "#6c7ee8"}, "value": "#f5a585"}}},
     {"mark": {"type": "line", "strokeWidth": 2.2, "clip": true}, "encoding": {"y": {"field": "mean", "type": "quantitative"}, "color": {"field": "group", "type": "nominal", "scale": {"domain": ["CL", "HS"], "range": ["#1ad2f2", "#f25a60"]}, "legend": {"title": null}}}}
    ]}
  ]}
 ]},
 {"spacing": 38, "title": {"text": "(D)", "dx": -13, "offset": 6}, "resolve": {"scale": {"color": "independent"}, "legend": {"color": "independent"}}, "hconcat": [
   {"width": 110, "height": 189,
    "data": {"name": "barD"},
    "encoding": {"x": {"field": "group", "type": "nominal", "scale": {"paddingInner": 0.09, "paddingOuter": 0.055}, "axis": {"title": null, "labelAngle": 0, "ticks": false, "labelPadding": 5, "labelFontSize": 13}}},
    "layer": [
     {"mark": {"type": "bar", "strokeWidth": 1.5},
      "encoding": {"y": {"field": "mean", "type": "quantitative", "scale": {"domain": [38.4, 39.8]}, "axis": {"title": "Rectal temperature (°C)", "values": [38.4,38.6,38.8,39.0,39.2,39.4,39.6,39.8], "tickCount": 20, "format": ".1f", "titlePadding": 9}}, "y2": {"datum": 38.4},
       "fill": {"condition": {"test": "datum.group === 'CL'", "value": "#00d8f8"}, "value": "#ff6464"},
       "stroke": {"condition": {"test": "datum.group === 'CL'", "value": "#4a8cf0"}, "value": "#e8141c"}}},
     {"mark": {"type": "rule", "strokeWidth": 1.5, "color": "black"}, "encoding": {"y": {"field": "lo", "type": "quantitative"}, "y2": {"field": "hi"}}},
     {"mark": {"type": "tick", "thickness": 1.5, "size": 22, "color": "black"}, "encoding": {"y": {"field": "lo", "type": "quantitative"}}},
     {"mark": {"type": "tick", "thickness": 1.5, "size": 22, "color": "black"}, "encoding": {"y": {"field": "hi", "type": "quantitative"}}},
     {"mark": {"type": "text", "baseline": "alphabetic", "dy": -2, "fontSize": 14, "fontWeight": "bold"}, "encoding": {"y": {"field": "hi", "type": "quantitative"}, "text": {"field": "sig"}}}
    ]},
   {"width": 361, "height": 189,
    "data": {"name": "temp"},
    "encoding": {"x": {"field": "day", "type": "quantitative", "scale": {"domain": [4, 56], "nice": false}, "axis": {"title": "Age (days)", "values": [4,8,12,16,20,24,28,32,36,40,44,48,52,56], "tickCount": 20, "titlePadding": 4}}},
    "layer": [
     {"mark": {"type": "area", "fillOpacity": 0.28, "clip": true}, "encoding": {"y": {"field": "lo", "type": "quantitative", "scale": {"domain": [38.4, 39.8]}, "axis": {"title": "Rectal temperature (°C)", "values": [38.4,38.6,38.8,39.0,39.2,39.4,39.6,39.8], "tickCount": 20, "format": ".1f", "titlePadding": 12}}, "y2": {"field": "hi"}, "detail": {"field": "group"}, "fill": {"condition": {"test": "datum.group === 'CL'", "value": "#48e6f8"}, "value": "#ff7070"}}},
     {"mark": {"type": "line", "strokeWidth": 0.6, "clip": true}, "encoding": {"y": {"field": "lo", "type": "quantitative"}, "detail": {"field": "group"}, "stroke": {"condition": {"test": "datum.group === 'CL'", "value": "#6c7ee8"}, "value": "#f5a585"}}},
     {"mark": {"type": "line", "strokeWidth": 0.6, "clip": true}, "encoding": {"y": {"field": "hi", "type": "quantitative"}, "detail": {"field": "group"}, "stroke": {"condition": {"test": "datum.group === 'CL'", "value": "#6c7ee8"}, "value": "#f5a585"}}},
     {"mark": {"type": "line", "strokeWidth": 2.2, "clip": true}, "encoding": {"y": {"field": "mean", "type": "quantitative"}, "color": {"field": "group", "type": "nominal", "scale": {"domain": ["CL", "HS"], "range": ["#1ad2f2", "#f25a60"]}, "legend": {"title": null}}}}
    ]}
 ]}
],
"spacing": 23
}
